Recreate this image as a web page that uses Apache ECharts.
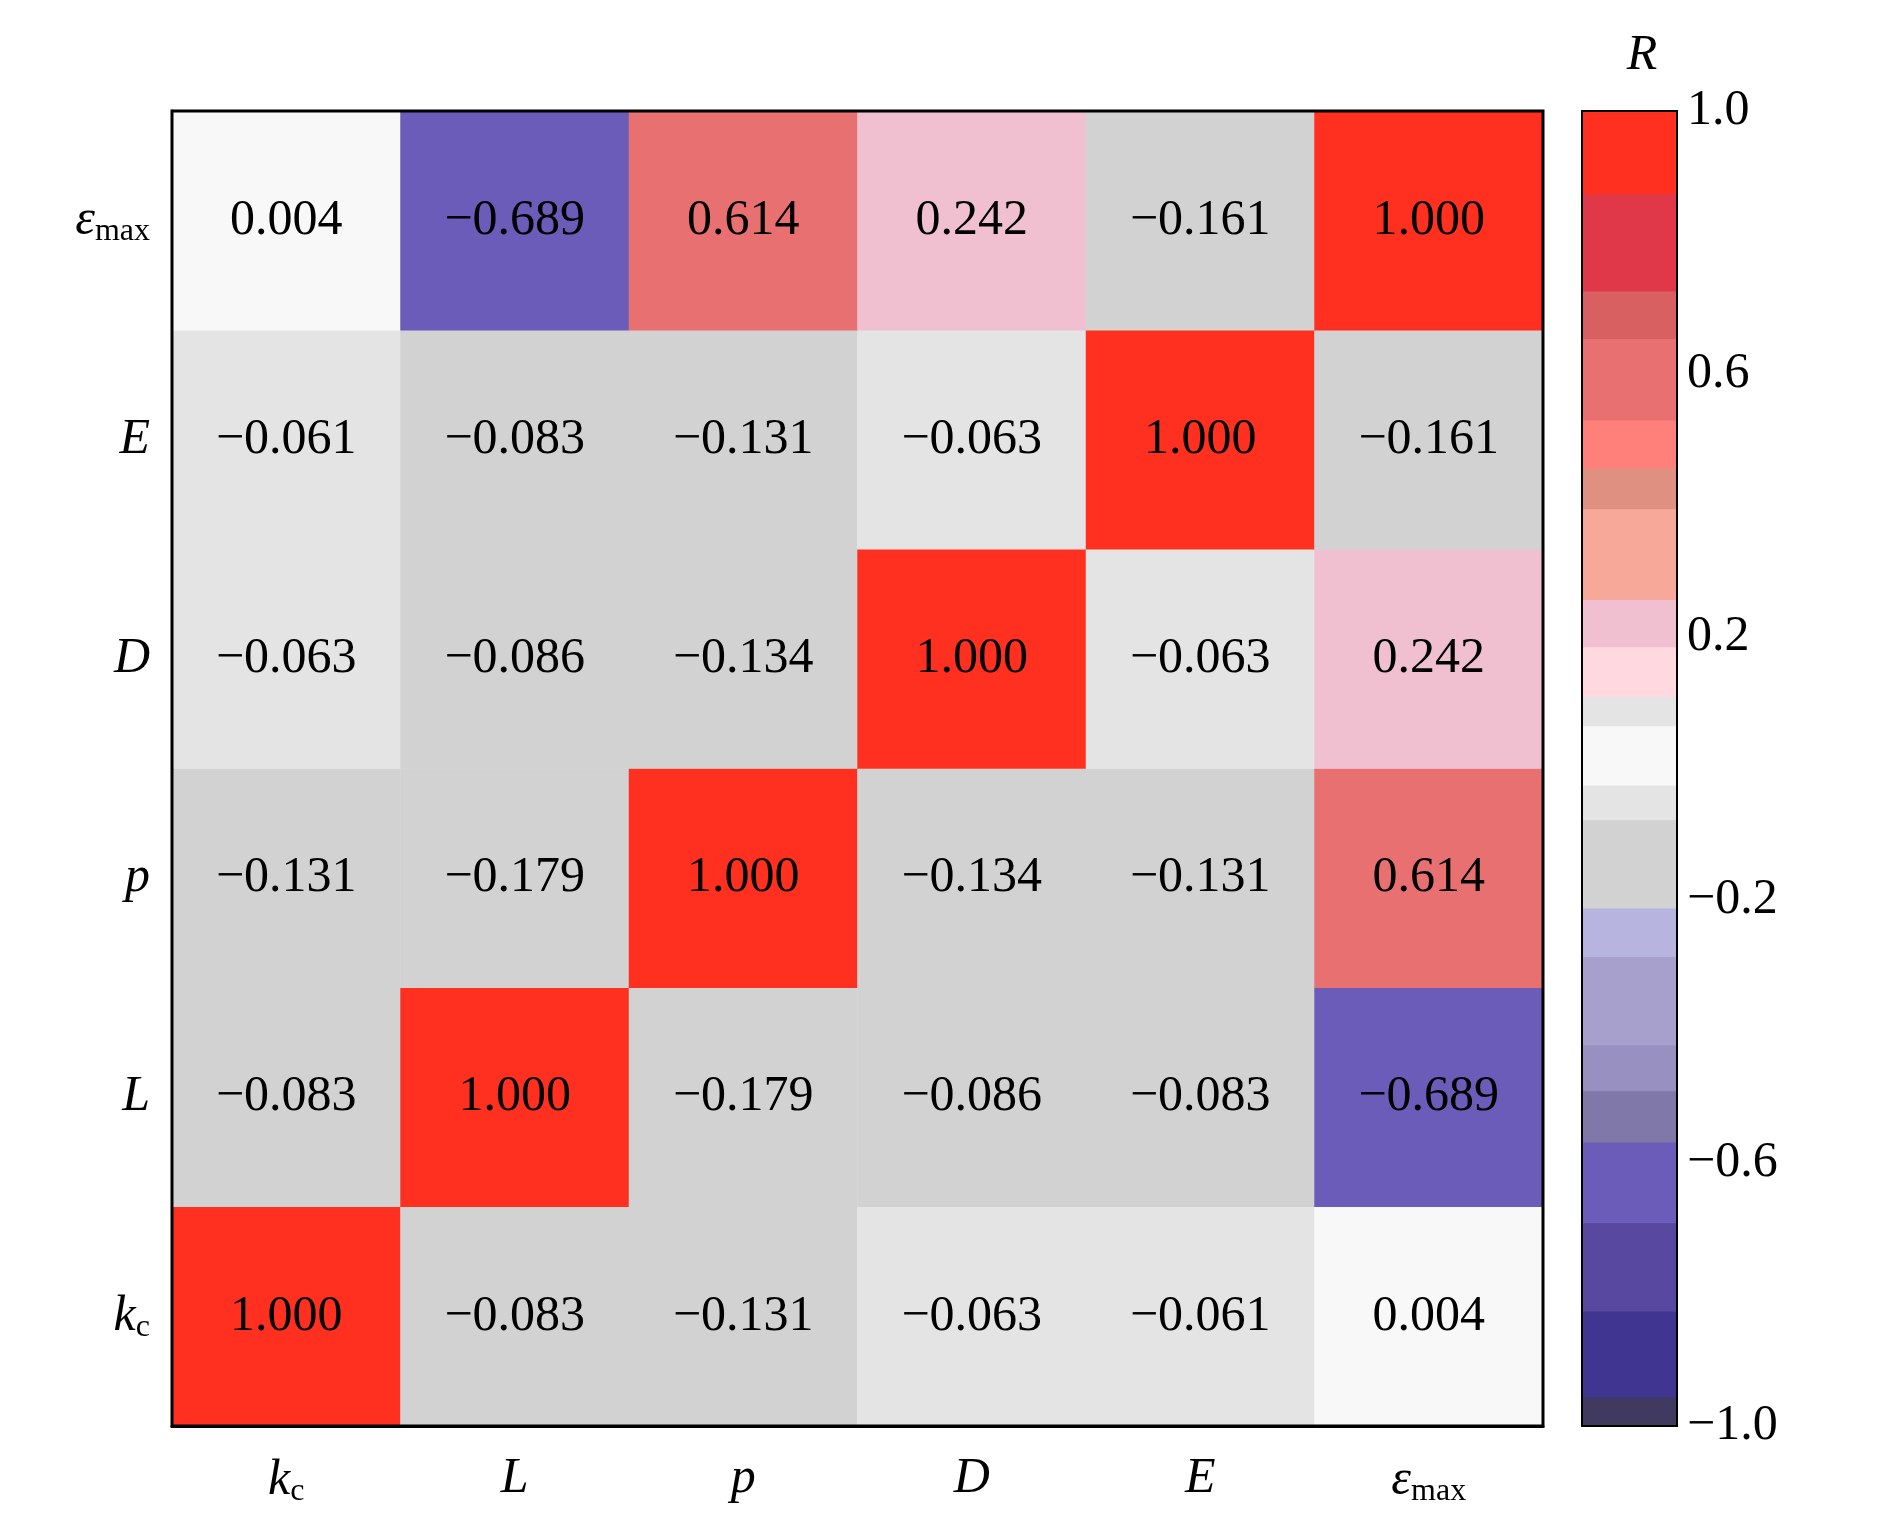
<!DOCTYPE html>
<html><head><meta charset="utf-8">
<script src="https://cdn.jsdelivr.net/npm/echarts@6/dist/echarts.min.js"></script>
<style>html,body{margin:0;background:#fff}#c{width:1890px;height:1537px}</style>
</head><body><div id="c"></div>
<script>
const vars = ['kc', 'L', 'p', 'D', 'E', 'emax'];
const matrix = [
  [1.000, -0.083, -0.131, -0.063, -0.061, 0.004],
  [-0.083, 1.000, -0.179, -0.086, -0.083, -0.689],
  [-0.131, -0.179, 1.000, -0.134, -0.131, 0.614],
  [-0.063, -0.086, -0.134, 1.000, -0.063, 0.242],
  [-0.061, -0.083, -0.131, -0.063, 1.000, -0.161],
  [0.004, -0.689, 0.614, 0.242, -0.161, 1.000]
];
const binEdges = [-1.0, -0.956, -0.825, -0.69, -0.568, -0.49, -0.42, -0.286, -0.212, -0.078, -0.025, 0.065, 0.11, 0.185, 0.257, 0.395, 0.457, 0.53, 0.654, 0.726, 0.874, 1.0];
const binColors = ['#403a60', '#403590', '#5848a0', '#6a5cb8', '#8078a8', '#9890c0', '#a8a0cc', '#b8b4e0', '#d2d2d2', '#e4e4e4', '#f8f8f8', '#e4e4e4', '#ffd8e0', '#f0c0d0', '#f8a898', '#e09080', '#ff7f7a', '#e87070', '#d86060', '#e03848', '#ff3020'];
const cbTicks = [-1.0, -0.6, -0.2, 0.2, 0.6, 1.0];

const font = 'Liberation Serif';
const rich = {
  i: {fontFamily: font, fontStyle: 'italic', fontSize: 50, color: '#000'},
  s: {fontFamily: font, fontSize: 32, color: '#000', padding: [22, 0, 0, 0]}
};
function varLabel(v) {
  if (v === 'kc') return '{i|k}{s|c}';
  if (v === 'emax') return '{i|ε}{s|max}';
  return '{i|' + v + '}';
}
const cells = [];
matrix.forEach((row, r) => row.forEach((val, c) => cells.push([c, r, val])));
const bins = binColors.map((col, i) => [binEdges[i], binEdges[i + 1], i]);
const fmt = v => (v < 0 ? '−' : '') + Math.abs(v).toFixed(3);

const chart = echarts.init(document.getElementById('c'));
chart.setOption({
  animation: false,
  backgroundColor: '#fff',
  grid: [
    {left: 172, right: 347, top: 111, bottom: 111, show: true, borderColor: '#000', borderWidth: 3, z: 10},
    {left: 1582, width: 95, top: 111, bottom: 111, show: true, borderColor: '#000', borderWidth: 2, z: 10}
  ],
  xAxis: [
    {type: 'category', data: vars, gridIndex: 0, axisLine: {lineStyle: {color: '#000', width: 3}},
     axisTick: {inside: true, alignWithLabel: true, length: 10, lineStyle: {color: '#000', width: 2}},
     axisLabel: {formatter: varLabel, rich: rich, margin: 28}, splitLine: {show: false}},
    {type: 'value', gridIndex: 1, min: 0, max: 1, show: false}
  ],
  yAxis: [
    {type: 'category', data: vars, gridIndex: 0, axisLine: {lineStyle: {color: '#000', width: 3}},
     axisTick: {inside: true, alignWithLabel: true, length: 10, lineStyle: {color: '#000', width: 2}},
     axisLabel: {formatter: varLabel, rich: rich, margin: 22}, splitLine: {show: false}},
    {type: 'value', gridIndex: 1, min: -1, max: 1, interval: 0.4, position: 'right',
     name: 'R', nameGap: 30, nameTextStyle: {fontFamily: font, fontStyle: 'italic', fontSize: 50, color: '#000', align: 'center', padding: [0, 0, 0, 120]},
     axisLine: {show: true, lineStyle: {color: '#000', width: 2}},
     axisTick: {show: true, length: 22, lineStyle: {color: '#000', width: 2}},
     axisLabel: {fontFamily: font, fontSize: 50, color: '#000', margin: 10, formatter: v => (v < 0 ? '−' : '') + Math.abs(v).toFixed(1)},
     splitLine: {show: false}}
  ],
  visualMap: {
    type: 'piecewise', show: false, seriesIndex: 0, dimension: 2,
    pieces: bins.map(b => ({gte: b[0], lt: b[1] + (b[2] === binColors.length - 1 ? 0.01 : 0), color: binColors[b[2]]}))
  },
  series: [
    {type: 'heatmap', xAxisIndex: 0, yAxisIndex: 0, data: cells,
     label: {show: true, formatter: p => fmt(p.value[2]), fontFamily: font, fontSize: 50, color: '#000'}},
    {type: 'custom', xAxisIndex: 1, yAxisIndex: 1, data: bins,
     renderItem: (params, api) => {
       const p0 = api.coord([0, api.value(1)]);
       const p1 = api.coord([1, api.value(0)]);
       return {type: 'rect', shape: {x: p0[0], y: p0[1], width: p1[0] - p0[0], height: p1[1] - p0[1] + 0.5},
               style: {fill: binColors[api.value(2)]}};
     }}
  ]
});
</script></body></html>
